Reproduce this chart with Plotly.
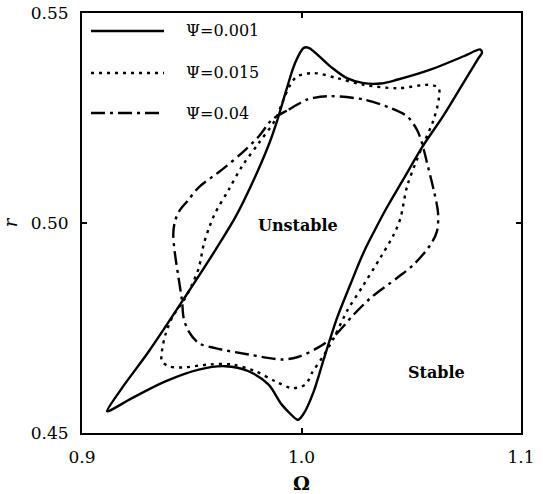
import plotly.graph_objects as go

# Psi = 0.001 (solid)
omega_1 = [0.9114, 0.9182, 0.9304, 0.9471, 0.9607, 0.9700, 0.9780, 0.9850, 0.9890, 0.9930,
           0.9970, 1.0010, 1.0033, 1.0131, 1.0207, 1.0283, 1.0359, 1.0435, 1.0587, 1.0739,
           1.0815, 1.0822, 1.0807, 1.0739, 1.0648, 1.0549, 1.0465, 1.0390, 1.0336, 1.0283,
           1.0222, 1.0162, 1.0101, 1.0055, 1.0010, 0.9987, 0.9980, 0.9911, 0.9850,
           0.9759, 0.9653, 0.9532, 0.9380, 0.9228, 0.9121, 0.9114]
r_1 = [0.4552, 0.4607, 0.4694, 0.4825, 0.4935, 0.5015, 0.5100, 0.5185, 0.5245, 0.5315,
       0.5380, 0.5417, 0.5417, 0.5373, 0.5345, 0.5333, 0.5332, 0.5341, 0.5365, 0.5397,
       0.5413, 0.5405, 0.5393, 0.5335, 0.5257, 0.5180, 0.5105, 0.5038, 0.4985, 0.4930,
       0.4853, 0.4774, 0.4675, 0.4598, 0.4546, 0.4532, 0.4532, 0.4567, 0.4615,
       0.4647, 0.4659, 0.4651, 0.4623, 0.4583, 0.4552, 0.4552]

# Psi = 0.015 (dotted)
omega_2 = [0.9471, 0.9410, 0.9380, 0.9364, 0.9364, 0.9395, 0.9456, 0.9577, 0.9683, 0.9790,
           0.9881, 0.9957, 1.0017, 1.0050, 1.0101, 1.0147, 1.0207, 1.0283, 1.0359, 1.0420,
           1.0450, 1.0481, 1.0526, 1.0557, 1.0602, 1.0625, 1.0625, 1.0587, 1.0435, 1.0283,
           1.0162, 1.0055, 0.9980, 0.9950, 0.9915, 0.9881, 0.9805, 0.9729, 0.9668, 0.9607,
           0.9580, 0.9555, 0.9532, 0.9501, 0.9471]
r_2 = [0.4822, 0.4774, 0.4734, 0.4694, 0.4671, 0.4659, 0.4656, 0.4663, 0.4663, 0.4647,
       0.4623, 0.4607, 0.4615, 0.4645, 0.4685, 0.4726, 0.4790, 0.4853, 0.4917, 0.4972,
       0.5010, 0.5087, 0.5151, 0.5190, 0.5246, 0.5294, 0.5321, 0.5329, 0.5321, 0.5329,
       0.5345, 0.5357, 0.5349, 0.5330, 0.5290, 0.5246, 0.5190, 0.5135, 0.5079, 0.5024,
       0.4990, 0.4950, 0.4893, 0.4853, 0.4822]

# Psi = 0.04 (dash-dot)
omega_3 = [0.9866, 0.9942, 1.0025, 1.0055, 1.0131, 1.0283, 1.0405, 1.0481, 1.0526, 1.0549,
           1.0572, 1.0602, 1.0622, 1.0617, 1.0587, 1.0511, 1.0435, 1.0314, 1.0238, 1.0147,
           1.0071, 0.9984, 0.9911, 0.9759, 0.9607, 0.9532, 0.9486, 0.9463, 0.9456, 0.9440,
           0.9422, 0.9416, 0.9424, 0.9445, 0.9480, 0.9532, 0.9638, 0.9729, 0.9805, 0.9866]
r_3 = [0.5246, 0.5270, 0.5294, 0.5298, 0.5302, 0.5294, 0.5274, 0.5254, 0.5222, 0.5190,
       0.5143, 0.5079, 0.5024, 0.4980, 0.4948, 0.4901, 0.4869, 0.4821, 0.4782, 0.4730,
       0.4702, 0.4681, 0.4675, 0.4687, 0.4702, 0.4714, 0.4742, 0.4774, 0.4813, 0.4869,
       0.4933, 0.4975, 0.5005, 0.5030, 0.5052, 0.5085, 0.5127, 0.5167, 0.5206, 0.5246]

legend_labels = ["Ψ=0.001", "Ψ=0.015", "Ψ=0.04"]
x_ticks = [0.9, 1.0, 1.1]
x_tick_text = ["0.9", "1.0", "1.1"]
y_ticks = [0.45, 0.50, 0.55]
y_tick_text = ["0.45", "0.50", "0.55"]

dashes = ["solid", "3px,5px", "14px,5px,3px,5px"]
series = [(omega_1, r_1), (omega_2, r_2), (omega_3, r_3)]

fig = go.Figure()
for (xs, ys), d, name in zip(series, dashes, legend_labels):
    fig.add_trace(go.Scatter(x=xs, y=ys, mode="lines", name=name,
                             line=dict(color="black", width=2.4, dash=d,
                                       shape="spline", smoothing=0.9),
                             showlegend=False))

FONT = "DejaVu Serif"
# manual legend
W, H = 543, 494
ml, mr, mt, mb = 82, 22, 13, 61
pw, ph = W - ml - mr, H - mt - mb
leg_y_px = [31, 73, 113]
for lbl, d, yp in zip(legend_labels, dashes, leg_y_px):
    yy = 1 - (yp - mt) / ph
    fig.add_shape(type="line", xref="paper", yref="paper",
                  x0=(91 - ml) / pw, x1=(164 - ml) / pw, y0=yy, y1=yy,
                  line=dict(color="black", width=2.4, dash=d))
    fig.add_annotation(xref="paper", yref="paper", x=(184 - ml) / pw, y=yy,
                       text=lbl, showarrow=False, xanchor="left", yanchor="middle",
                       font=dict(family=FONT, size=16, color="black"))

fig.add_annotation(x=0.9984, y=0.4995, text="<b>Unstable</b>", showarrow=False,
                   font=dict(family=FONT, size=16, color="black"))
fig.add_annotation(x=1.0613, y=0.4645, text="<b>Stable</b>", showarrow=False,
                   font=dict(family=FONT, size=16, color="black"))

axis_common = dict(showline=True, linecolor="black", linewidth=2, mirror="allticks",
                   ticks="inside", ticklen=5, tickwidth=1.5, tickcolor="black",
                   showgrid=False, zeroline=False, automargin=False,
                   tickfont=dict(family=FONT, size=17, color="black"))

fig.update_xaxes(range=[0.9, 1.1], tickvals=x_ticks, ticktext=x_tick_text,
                 ticklabelstandoff=8,
                 title=dict(text="<b>Ω</b>", font=dict(family=FONT, size=19, color="black"),
                            standoff=14),
                 **axis_common)
fig.update_yaxes(range=[0.45, 0.55], tickvals=y_ticks, ticktext=y_tick_text,
                 ticklabelstandoff=8,
                 title=dict(text="<i>r</i>", font=dict(family=FONT, size=18, color="black"),
                            standoff=10),
                 **axis_common)

fig.update_layout(width=W, height=H, margin=dict(l=ml, r=mr, t=mt, b=mb),
                  plot_bgcolor="white", paper_bgcolor="white", showlegend=False)

fig.write_html("out.html")
